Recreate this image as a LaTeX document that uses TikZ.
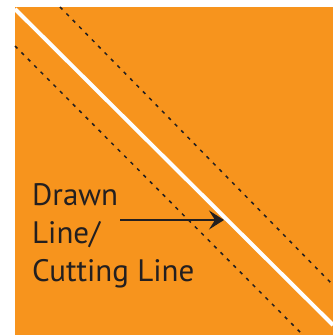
\documentclass[tikz,border=0pt]{standalone}
\usepackage{fontspec}
\setmainfont{PT Sans}
\usepackage{tikz}
\usetikzlibrary{arrows.meta, positioning}
\definecolor{myorange}{RGB}{247,148,29}
\definecolor{mydark}{RGB}{35,31,32}
\tikzset{
  cutline/.style={line width=4pt, color=white},
  seamline/.style={line width=1.5pt, color=mydark, dash pattern=on 3.5pt off 5.6pt},
  callout/.style={font=\fontsize{31}{38}\selectfont, text=mydark,
    align=left, inner sep=0pt, anchor=base west},
  arrow/.style={-{Stealth[length=15pt, width=19pt, inset=6pt]}, line width=1.6pt, color=mydark}
}

\begin{document}
\begin{tikzpicture}[x=1pt, y=-1pt]
  \useasboundingbox (0,0) rectangle (333,335);
  % Fabric square
  \fill[myorange] (15,7) rectangle (333,335);

  % Seam allowances
  \draw[seamline] (60,7) -- (333,285);
  \draw[seamline] (15,46) -- (303,335);

  % Drawn / cutting line
  \draw[cutline] (15,9) -- (333,325);

  % Label and pointer (base of last line)
  \node[callout] (lbl) at (32,281) {Drawn\\Line/\\Cutting Line};
  \coordinate (arrowstart) at (120,220);
  \coordinate (arrowtip) at (224,220);
  \draw[arrow] (arrowstart) -- (arrowtip);
\end{tikzpicture}
\end{document}
